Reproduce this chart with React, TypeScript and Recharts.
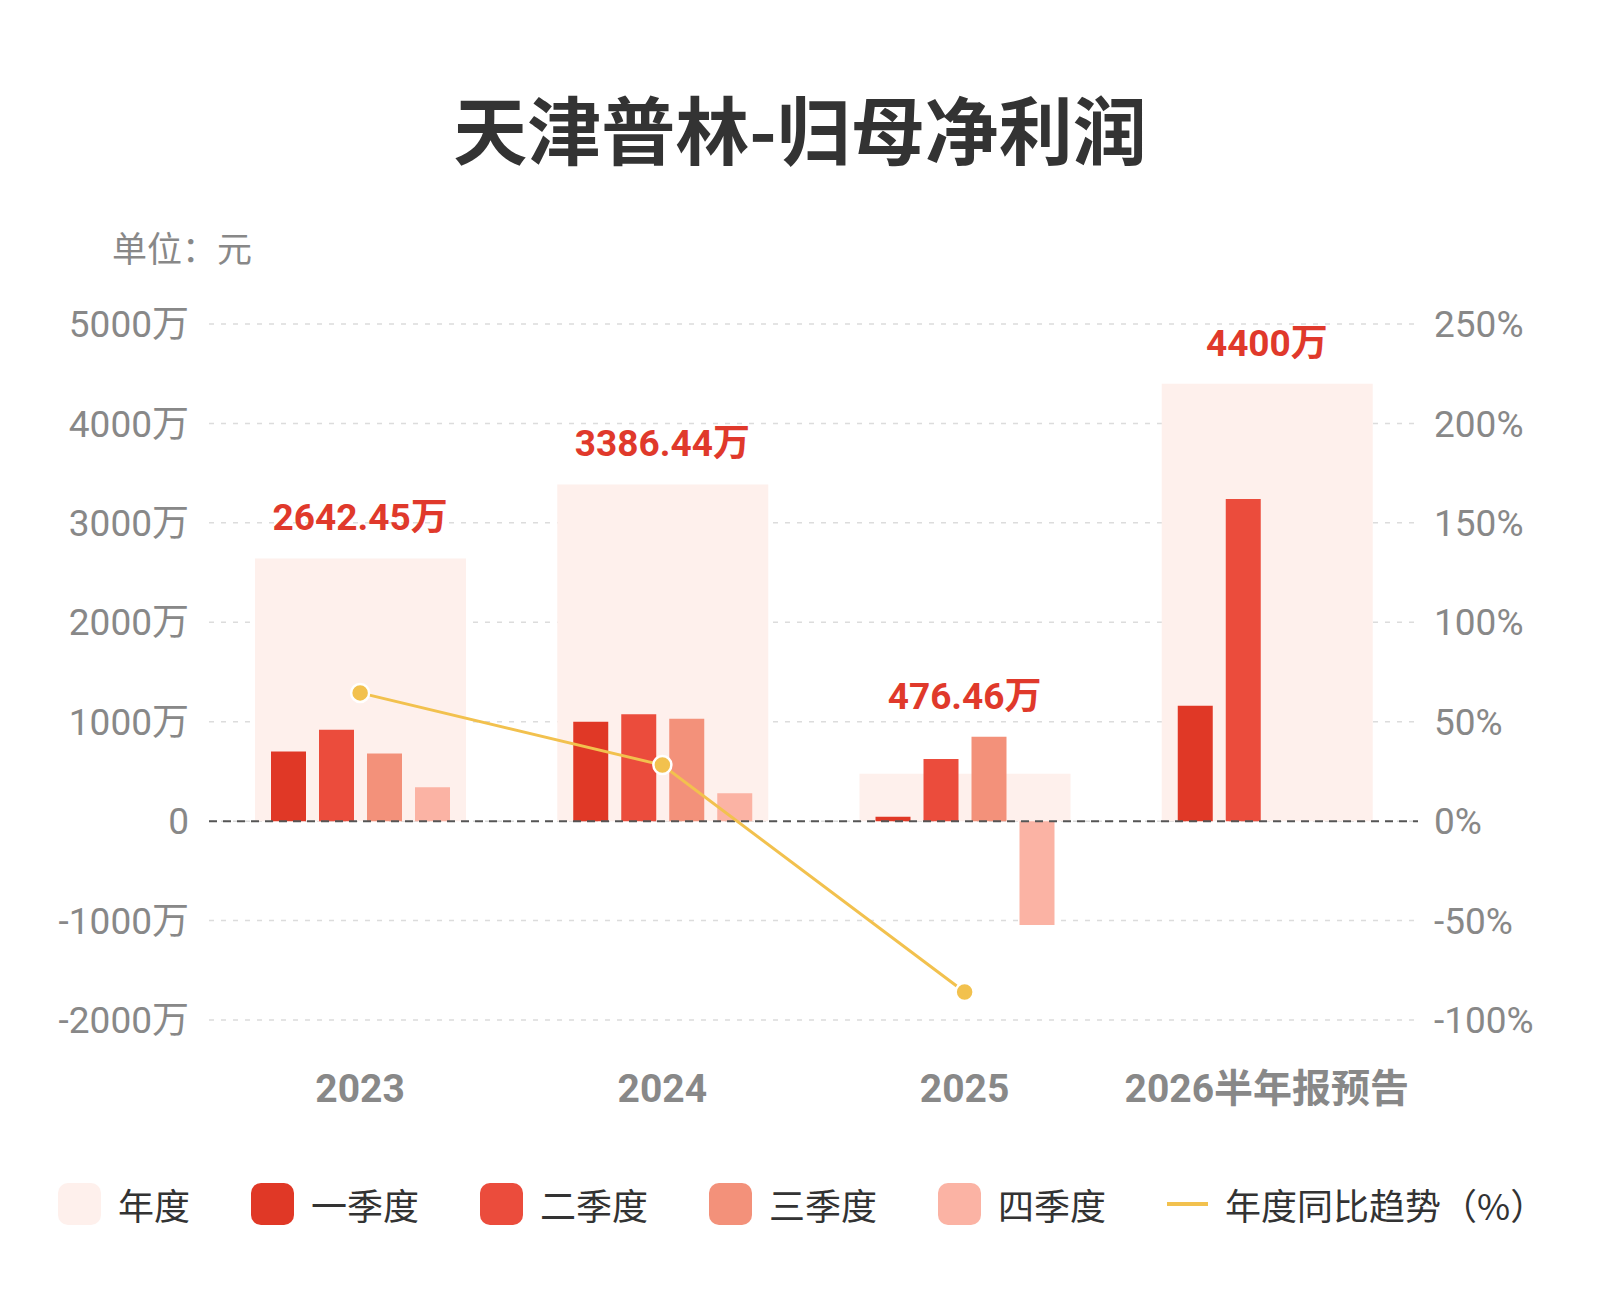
import React from 'react';
import {
  ComposedChart,
  Bar,
  Line,
  XAxis,
  YAxis,
  CartesianGrid,
  ReferenceLine,
  LabelList,
} from 'recharts';

// 数据（单位：万元）
const years = ['2023', '2024', '2025', '2026半年报预告'];
const yearTotal = [2642.45, 3386.44, 476.46, 4400];
const q1 = [700, 1000, 45, 1160];
const q2 = [920, 1075, 625, 3240];
const q3 = [680, 1030, 850, null];
const q4 = [342, 281, -1044, null];
const yoy = [64.5, 28.2, -85.9, null];

const leftTicks = [-2000, -1000, 0, 1000, 2000, 3000, 4000, 5000];
const rightTicks = [-100, -50, 0, 50, 100, 150, 200, 250];

const COLORS = {
  year: '#FEF0EC',
  q1: '#E03826',
  q2: '#EB4C3C',
  q3: '#F3917A',
  q4: '#FBB3A4',
  line: '#F2C14E',
  label: '#E0392B',
};

const numFont = 'Roboto, "Noto Sans CJK SC", sans-serif';
const cjkFont = '"Noto Sans CJK SC", "Noto Sans", sans-serif';

const chartData = years.map((name, i) => ({
  name,
  total: yearTotal[i],
  q1: q1[i],
  q2: q2[i],
  q3: q3[i],
  q4: q4[i],
  yoy: yoy[i],
  // 年度标签放在最高柱子上方
  labelAt: Math.max(yearTotal[i], q1[i] ?? 0, q2[i] ?? 0, q3[i] ?? 0, q4[i] ?? 0),
}));

const legendItems = [
  { name: '年度', color: COLORS.year },
  { name: '一季度', color: COLORS.q1 },
  { name: '二季度', color: COLORS.q2 },
  { name: '三季度', color: COLORS.q3 },
  { name: '四季度', color: COLORS.q4 },
];

const XTick = (props: any) => {
  const { x, y, payload } = props;
  return (
    <text
      x={x}
      y={y}
      dy={14}
      textAnchor="middle"
      fill="#888"
      fontSize={39}
      fontWeight="bold"
      fontFamily={numFont}
    >
      {payload.value}
    </text>
  );
};

const App = () => {
  return (
    <div
      style={{
        position: 'absolute',
        left: 0,
        top: 0,
        width: 1600,
        height: 1300,
        background: '#fff',
        fontFamily: cjkFont,
      }}
    >
      <div
        style={{
          position: 'absolute',
          top: 77,
          left: 0,
          width: 1600,
          textAlign: 'center',
          fontSize: 74,
          fontWeight: 'bold',
          color: '#333',
          lineHeight: '100px',
        }}
      >
        天津普林-归母净利润
      </div>
      <div
        style={{
          position: 'absolute',
          top: 225,
          left: 112,
          fontSize: 35,
          color: '#888',
          lineHeight: '44px',
        }}
      >
        单位：元
      </div>

      <div style={{ position: 'absolute', left: 0, top: 0 }}>
        <ComposedChart
          width={1600}
          height={1300}
          data={chartData}
          barGap={13}
          margin={{ top: 324, right: 0, bottom: 220, left: 0 }}
        >
          <CartesianGrid
            vertical={false}
            stroke="#dcdcdc"
            strokeWidth={1.5}
            strokeDasharray="5 7"
            yAxisId="left"
          />
          <XAxis
            dataKey="name"
            axisLine={false}
            tickLine={false}
            tickMargin={62}
            height={60}
            tick={<XTick />}
            interval={0}
          />
          <XAxis xAxisId="bg" dataKey="name" hide />
          <YAxis
            yAxisId="left"
            width={209}
            domain={[-2000, 5000]}
            ticks={leftTicks}
            axisLine={false}
            tickLine={false}
            tickMargin={14}
            interval={0}
            tickFormatter={(v: number) => (v === 0 ? '0' : `${v}万`)}
            tick={{ fill: '#888', fontSize: 37, fontFamily: numFont }}
          />
          <YAxis
            yAxisId="right"
            orientation="right"
            width={182}
            domain={[-100, 250]}
            ticks={rightTicks}
            axisLine={false}
            tickLine={false}
            tickMargin={10}
            interval={0}
            tickFormatter={(v: number) => `${v}%`}
            tick={{ fill: '#888', fontSize: 37, fontFamily: numFont, textAnchor: 'start' }}
          />
          <Bar
            xAxisId="bg"
            yAxisId="left"
            dataKey="total"
            barSize={211}
            fill={COLORS.year}
            isAnimationActive={false}
          />
          <Bar yAxisId="left" dataKey="q1" barSize={35} fill={COLORS.q1} isAnimationActive={false} />
          <Bar yAxisId="left" dataKey="q2" barSize={35} fill={COLORS.q2} isAnimationActive={false} />
          <Bar yAxisId="left" dataKey="q3" barSize={35} fill={COLORS.q3} isAnimationActive={false} />
          <Bar yAxisId="left" dataKey="q4" barSize={35} fill={COLORS.q4} isAnimationActive={false} />
          <ReferenceLine
            yAxisId="left"
            y={0}
            stroke="#555"
            strokeWidth={2}
            strokeDasharray="8 6"
          />
          {/* 不可见的折线，只用来定位年度数值标签 */}
          <Line
            xAxisId="bg"
            yAxisId="left"
            dataKey="labelAt"
            stroke="none"
            dot={false}
            activeDot={false}
            legendType="none"
            isAnimationActive={false}
          >
            <LabelList
              dataKey="total"
              position="top"
              offset={28}
              formatter={(v: any) => `${v}万`}
              fill={COLORS.label}
              fontSize={37}
              fontWeight="bold"
              fontFamily={numFont}
            />
          </Line>
          <Line
            yAxisId="right"
            dataKey="yoy"
            type="linear"
            stroke={COLORS.line}
            strokeWidth={3}
            dot={{ r: 9, fill: COLORS.line, stroke: '#fff', strokeWidth: 2.5 }}
            activeDot={false}
            connectNulls={false}
            isAnimationActive={false}
          />
        </ComposedChart>
      </div>

      <div
        style={{
          position: 'absolute',
          top: 1183,
          left: 58,
          display: 'flex',
          alignItems: 'center',
          fontSize: 36,
          color: '#333',
          lineHeight: '42px',
        }}
      >
        {legendItems.map((item) => (
          <div key={item.name} style={{ display: 'flex', alignItems: 'center', marginRight: 61 }}>
            <div
              style={{
                width: 43,
                height: 42,
                borderRadius: 10,
                background: item.color,
                marginRight: 17,
              }}
            />
            <span>{item.name}</span>
          </div>
        ))}
        <div style={{ display: 'flex', alignItems: 'center' }}>
          <div
            style={{
              width: 41,
              height: 4,
              background: COLORS.line,
              marginRight: 17,
            }}
          />
          <span>年度同比趋势（%）</span>
        </div>
      </div>
    </div>
  );
};

export default App;
